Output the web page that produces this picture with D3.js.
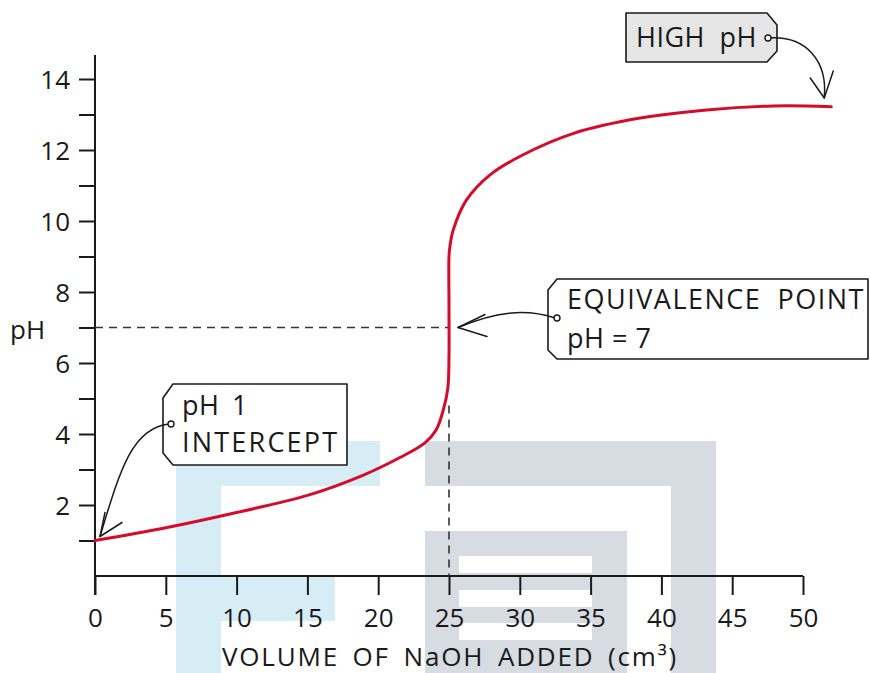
<!DOCTYPE html>
<html>
<head>
<meta charset="utf-8">
<script src="https://cdn.jsdelivr.net/npm/d3@7"></script>
<style>
  html, body { margin: 0; padding: 0; background: #fff; }
  svg { display: block; }
  text { font-family: "Open Sans", "DejaVu Sans", sans-serif; fill: #1a1a1a; }
</style>
</head>
<body>
<div id="chart"></div>
<script>
// titration curve: strong acid + NaOH
const volume = [0, 5, 10, 15, 19, 21.5, 23.3, 24.1, 24.6, 24.92, 25, 25, 25, 25.07, 25.3, 26.25, 27.9, 30.2, 33.8, 38.5, 43.2, 47.9, 52];
const pH     = [1.0, 1.36, 1.79, 2.27, 2.85, 3.33, 3.75, 4.12, 4.68, 5.3, 6.2, 7.6, 9.0, 9.3, 9.75, 10.6, 11.3, 11.86, 12.47, 12.9, 13.13, 13.24, 13.22];

const xTicks = [0, 5, 10, 15, 20, 25, 30, 35, 40, 45, 50];
const yTicks = [1, 2, 3, 4, 5, 6, 7, 8, 9, 10, 11, 12, 13, 14];
const yLabels = [2, 4, 6, 8, 10, 12, 14];

const equivVolume = 25;
const equivPH = 7;

const W = 870, H = 673;
const ink = '#1a1a1a';

const svg = d3.select('#chart').append('svg')
  .attr('width', W).attr('height', H)
  .attr('viewBox', `0 0 ${W} ${H}`);

const x = d3.scaleLinear().domain([0, 50]).range([95, 803]);
const y = d3.scaleLinear().domain([0, 14]).range([576, 79]);

// watermark logo (decoration only)
const wmBlue = '#d7edf5', wmGrey = '#d6dce1';
const wmRects = [
  [176, 441, 204, 45, wmBlue], [176, 441, 45, 232, wmBlue], [221, 576, 114, 45, wmBlue],
  [425, 441, 291, 45, wmGrey], [671, 441, 45, 232, wmGrey], [425, 531, 202, 142, wmGrey]
];
const wm = svg.append('g');
wmRects.forEach(([rx, ry, rw, rh, c]) => {
  wm.append('rect').attr('x', rx).attr('y', ry).attr('width', rw).attr('height', rh).attr('fill', c);
});
[[459, 556], [459, 590], [459, 623]].forEach(([rx, ry]) => {
  wm.append('rect').attr('x', rx).attr('y', ry).attr('width', 133).attr('height', 17).attr('fill', '#fff');
});

// axes
const yAxis = d3.axisLeft(y).tickValues(yTicks).tickSize(16).tickPadding(9)
  .tickFormat(d => yLabels.includes(d) ? d : '');
const gy = svg.append('g').attr('transform', `translate(${x(0)},0)`).call(yAxis);
gy.select('.domain').remove();

const xAxis = d3.axisBottom(x).tickValues(xTicks).tickSize(19).tickPadding(0);
const gx = svg.append('g').attr('transform', `translate(0,${y(0)})`).call(xAxis);
gx.select('.domain').remove();

[gx, gy].forEach(g => {
  g.selectAll('line').attr('stroke', ink).attr('stroke-width', 2);
  g.selectAll('text').style('font-size', '26px').attr('fill', ink);
});
gx.selectAll('text').attr('y', 51).attr('dy', null);
gy.selectAll('text').attr('dy', '0.36em');

svg.append('line')
  .attr('x1', x(0)).attr('x2', x(0)).attr('y1', 55).attr('y2', y(0) + 19)
  .attr('stroke', ink).attr('stroke-width', 2);
svg.append('line')
  .attr('x1', x(0)).attr('x2', x(50)).attr('y1', y(0)).attr('y2', y(0))
  .attr('stroke', ink).attr('stroke-width', 2);

svg.append('text').attr('x', 10).attr('y', 339).style('font-size', '26px').text('pH');

// fit a text to a width: letter spacing first, word gaps take the rest
function fit(t, len, ls) {
  t.attr('letter-spacing', ls);
  const w = t.node().getComputedTextLength();
  const gaps = t.text().split(' ').length - 1;
  if (gaps > 0) t.attr('word-spacing', Math.max(0, (len - w) / gaps));
  return t;
}

// axis title
fit(svg.append('text').attr('x', 222).attr('y', 666).style('font-size', '26px')
  .text('VOLUME OF NaOH ADDED (cm³)'), 456, 1.8);

// dashed guides at equivalence point
const dash = { stroke: '#333', 'stroke-width': 1.6, 'stroke-dasharray': '8,6' };
const hl = svg.append('line')
  .attr('x1', x(0)).attr('x2', x(equivVolume)).attr('y1', y(equivPH)).attr('y2', y(equivPH));
const vl = svg.append('line')
  .attr('x1', x(equivVolume)).attr('x2', x(equivVolume)).attr('y1', y(4.8)).attr('y2', y(0));
[hl, vl].forEach(l => Object.entries(dash).forEach(([k, v]) => l.attr(k, v)));

// curve
const line = d3.line()
  .x((d, i) => x(volume[i]))
  .y((d, i) => y(pH[i]))
  .curve(d3.curveCatmullRom.alpha(0.5));

svg.append('path')
  .datum(volume)
  .attr('d', line)
  .attr('fill', 'none')
  .attr('stroke', '#d40c2b')
  .attr('stroke-width', 3)
  .attr('stroke-linecap', 'round');

// annotations
function tag(points, fill) {
  svg.append('path')
    .attr('d', 'M' + points.map(p => p.join(',')).join('L') + 'Z')
    .attr('fill', fill).attr('stroke', ink).attr('stroke-width', 1.6)
    .attr('stroke-linejoin', 'round');
}
function label(tx, ty, txt, len, ls) {
  return fit(svg.append('text').attr('x', tx).attr('y', ty).style('font-size', '27px').text(txt), len, ls);
}
function arrow(d, tip, a1, a2) {
  svg.append('path').attr('d', d).attr('fill', 'none').attr('stroke', ink).attr('stroke-width', 1.5);
  [a1, a2].forEach(a => svg.append('line')
    .attr('x1', tip[0]).attr('y1', tip[1]).attr('x2', a[0]).attr('y2', a[1])
    .attr('stroke', ink).attr('stroke-width', 1.5).attr('stroke-linecap', 'round'));
}
function knot(cx, cy) {
  svg.append('circle').attr('cx', cx).attr('cy', cy).attr('r', 3)
    .attr('fill', '#fff').attr('stroke', ink).attr('stroke-width', 1.4);
}

// HIGH pH
tag([[626, 13], [767, 13], [777, 25], [777, 51], [767, 62], [626, 62]], '#e6e6e6');
label(636, 47, 'HIGH pH', 121, 0.5);
const hiTip = [x(51.5), y(13.24) - 8];
arrow(`M770,38 C805,36 828,60 ${hiTip[0]},${hiTip[1]}`, hiTip,
  [hiTip[0] - 14, hiTip[1] - 20], [hiTip[0] + 9, hiTip[1] - 27]);
knot(768, 38);

// equivalence point
tag([[557, 279], [868, 279], [868, 359], [557, 359], [548, 350], [548, 290]], '#fff');
label(567, 309, 'EQUIVALENCE POINT', 298, 1.5);
label(567, 348, 'pH = 7', 76, 0.5);
const eqTip = [x(equivVolume) + 9, y(equivPH)];
arrow(`M555,318 C525,308 495,312 ${eqTip[0]},${eqTip[1]}`, eqTip,
  [eqTip[0] + 27, eqTip[1] - 13], [eqTip[0] + 29, eqTip[1] + 9]);
knot(557, 318);

// pH 1 intercept
tag([[173, 384], [347, 384], [347, 465], [173, 465], [163, 453], [163, 398]], '#fff');
label(182, 415, 'pH 1', 66, 0.5);
label(182, 452, 'INTERCEPT', 156, 2.2);
const inTip = [x(0) + 5, y(1) - 4];
arrow(`M169,424 C132,428 120,470 ${inTip[0]},${inTip[1]}`, inTip,
  [inTip[0] + 5, inTip[1] - 24], [inTip[0] + 22, inTip[1] - 14]);
knot(171, 424);
</script>
</body>
</html>
